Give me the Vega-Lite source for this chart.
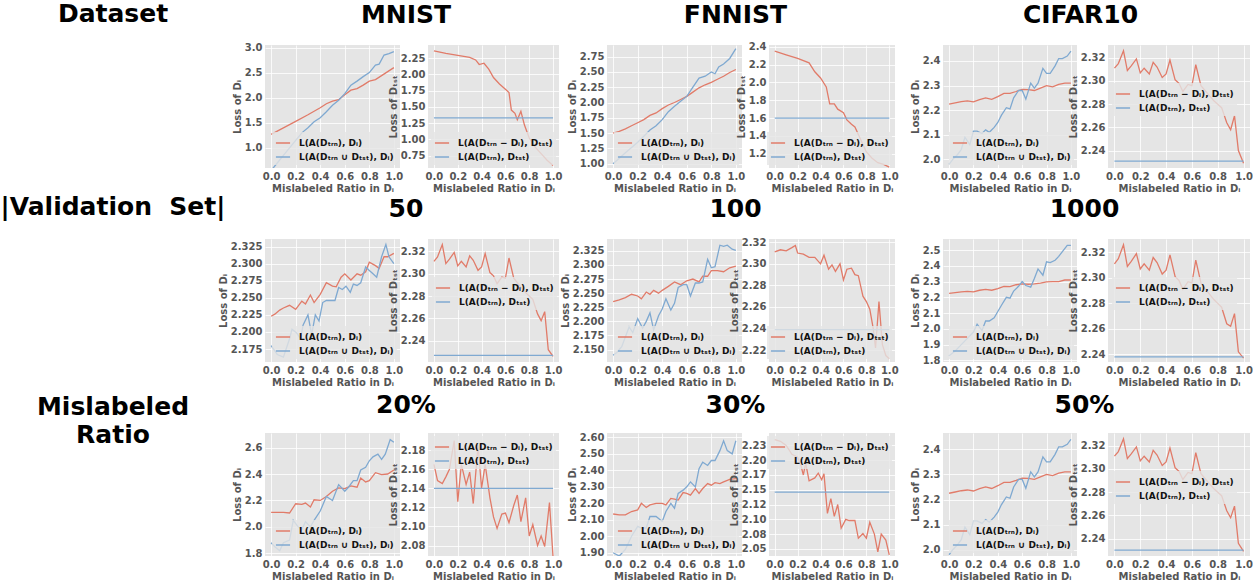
{
"$schema":"https://vega.github.io/schema/vega-lite/v6.json",
"padding":{"left":0,"top":2,"right":0,"bottom":0},
"background":"white",
"datasets":{"d":[
{"p":"1A","s":"r","x":0,"y":1.27},{"p":"1A","s":"r","x":0.1,"y":1.4},{"p":"1A","s":"r","x":0.2,"y":1.53},{"p":"1A","s":"r","x":0.3,"y":1.66},{"p":"1A","s":"r","x":0.4,"y":1.8},{"p":"1A","s":"r","x":0.45,"y":1.88},{"p":"1A","s":"r","x":0.5,"y":1.93},{"p":"1A","s":"r","x":0.55,"y":1.96},{"p":"1A","s":"r","x":0.6,"y":2.06},{"p":"1A","s":"r","x":0.65,"y":2.15},{"p":"1A","s":"r","x":0.7,"y":2.18},{"p":"1A","s":"r","x":0.75,"y":2.25},{"p":"1A","s":"r","x":0.8,"y":2.33},{"p":"1A","s":"r","x":0.85,"y":2.36},{"p":"1A","s":"r","x":0.9,"y":2.44},{"p":"1A","s":"r","x":0.95,"y":2.52},{"p":"1A","s":"r","x":1,"y":2.6},
{"p":"1A","s":"b","x":0,"y":0.55},{"p":"1A","s":"b","x":0.05,"y":0.7},{"p":"1A","s":"b","x":0.1,"y":0.85},{"p":"1A","s":"b","x":0.15,"y":1.0},{"p":"1A","s":"b","x":0.2,"y":1.15},{"p":"1A","s":"b","x":0.25,"y":1.3},{"p":"1A","s":"b","x":0.3,"y":1.4},{"p":"1A","s":"b","x":0.35,"y":1.52},{"p":"1A","s":"b","x":0.4,"y":1.6},{"p":"1A","s":"b","x":0.45,"y":1.72},{"p":"1A","s":"b","x":0.5,"y":1.85},{"p":"1A","s":"b","x":0.55,"y":1.95},{"p":"1A","s":"b","x":0.6,"y":2.08},{"p":"1A","s":"b","x":0.65,"y":2.25},{"p":"1A","s":"b","x":0.7,"y":2.33},{"p":"1A","s":"b","x":0.75,"y":2.42},{"p":"1A","s":"b","x":0.8,"y":2.5},{"p":"1A","s":"b","x":0.85,"y":2.65},{"p":"1A","s":"b","x":0.88,"y":2.67},{"p":"1A","s":"b","x":0.92,"y":2.85},{"p":"1A","s":"b","x":0.96,"y":2.88},{"p":"1A","s":"b","x":1,"y":2.92},
{"p":"1B","s":"r","x":0,"y":2.36},{"p":"1B","s":"r","x":0.1,"y":2.32},{"p":"1B","s":"r","x":0.2,"y":2.29},{"p":"1B","s":"r","x":0.3,"y":2.26},{"p":"1B","s":"r","x":0.35,"y":2.22},{"p":"1B","s":"r","x":0.38,"y":2.15},{"p":"1B","s":"r","x":0.42,"y":2.17},{"p":"1B","s":"r","x":0.46,"y":2.08},{"p":"1B","s":"r","x":0.5,"y":1.95},{"p":"1B","s":"r","x":0.55,"y":1.85},{"p":"1B","s":"r","x":0.6,"y":1.77},{"p":"1B","s":"r","x":0.63,"y":1.72},{"p":"1B","s":"r","x":0.65,"y":1.45},{"p":"1B","s":"r","x":0.68,"y":1.4},{"p":"1B","s":"r","x":0.7,"y":1.3},{"p":"1B","s":"r","x":0.73,"y":1.43},{"p":"1B","s":"r","x":0.76,"y":1.22},{"p":"1B","s":"r","x":0.8,"y":1.02},{"p":"1B","s":"r","x":0.85,"y":0.88},{"p":"1B","s":"r","x":0.9,"y":0.78},{"p":"1B","s":"r","x":0.95,"y":0.68},{"p":"1B","s":"r","x":1,"y":0.6},
{"p":"1B","s":"b","x":0,"y":1.33},{"p":"1B","s":"b","x":1,"y":1.33},
{"p":"1C","s":"r","x":0,"y":1.5},{"p":"1C","s":"r","x":0.05,"y":1.53},{"p":"1C","s":"r","x":0.1,"y":1.57},{"p":"1C","s":"r","x":0.15,"y":1.62},{"p":"1C","s":"r","x":0.2,"y":1.67},{"p":"1C","s":"r","x":0.25,"y":1.72},{"p":"1C","s":"r","x":0.3,"y":1.79},{"p":"1C","s":"r","x":0.35,"y":1.83},{"p":"1C","s":"r","x":0.4,"y":1.9},{"p":"1C","s":"r","x":0.45,"y":1.96},{"p":"1C","s":"r","x":0.5,"y":2.0},{"p":"1C","s":"r","x":0.55,"y":2.05},{"p":"1C","s":"r","x":0.6,"y":2.1},{"p":"1C","s":"r","x":0.65,"y":2.17},{"p":"1C","s":"r","x":0.7,"y":2.24},{"p":"1C","s":"r","x":0.75,"y":2.29},{"p":"1C","s":"r","x":0.8,"y":2.33},{"p":"1C","s":"r","x":0.85,"y":2.38},{"p":"1C","s":"r","x":0.9,"y":2.43},{"p":"1C","s":"r","x":0.95,"y":2.49},{"p":"1C","s":"r","x":1,"y":2.54},
{"p":"1C","s":"b","x":0,"y":1.0},{"p":"1C","s":"b","x":0.1,"y":1.18},{"p":"1C","s":"b","x":0.2,"y":1.35},{"p":"1C","s":"b","x":0.25,"y":1.45},{"p":"1C","s":"b","x":0.3,"y":1.55},{"p":"1C","s":"b","x":0.35,"y":1.62},{"p":"1C","s":"b","x":0.4,"y":1.72},{"p":"1C","s":"b","x":0.45,"y":1.85},{"p":"1C","s":"b","x":0.5,"y":1.94},{"p":"1C","s":"b","x":0.55,"y":2.02},{"p":"1C","s":"b","x":0.6,"y":2.1},{"p":"1C","s":"b","x":0.65,"y":2.25},{"p":"1C","s":"b","x":0.7,"y":2.4},{"p":"1C","s":"b","x":0.75,"y":2.43},{"p":"1C","s":"b","x":0.8,"y":2.5},{"p":"1C","s":"b","x":0.83,"y":2.47},{"p":"1C","s":"b","x":0.86,"y":2.58},{"p":"1C","s":"b","x":0.9,"y":2.63},{"p":"1C","s":"b","x":0.95,"y":2.72},{"p":"1C","s":"b","x":1,"y":2.88},
{"p":"1D","s":"r","x":0,"y":2.35},{"p":"1D","s":"r","x":0.1,"y":2.31},{"p":"1D","s":"r","x":0.2,"y":2.27},{"p":"1D","s":"r","x":0.3,"y":2.22},{"p":"1D","s":"r","x":0.35,"y":2.12},{"p":"1D","s":"r","x":0.4,"y":2.05},{"p":"1D","s":"r","x":0.45,"y":1.95},{"p":"1D","s":"r","x":0.48,"y":1.76},{"p":"1D","s":"r","x":0.52,"y":1.76},{"p":"1D","s":"r","x":0.55,"y":1.7},{"p":"1D","s":"r","x":0.6,"y":1.66},{"p":"1D","s":"r","x":0.63,"y":1.58},{"p":"1D","s":"r","x":0.67,"y":1.53},{"p":"1D","s":"r","x":0.7,"y":1.5},{"p":"1D","s":"r","x":0.75,"y":1.36},{"p":"1D","s":"r","x":0.8,"y":1.22},{"p":"1D","s":"r","x":0.85,"y":1.15},{"p":"1D","s":"r","x":0.9,"y":1.1},{"p":"1D","s":"r","x":0.95,"y":1.08},{"p":"1D","s":"r","x":1,"y":1.05},
{"p":"1D","s":"b","x":0,"y":1.6},{"p":"1D","s":"b","x":1,"y":1.6},
{"p":"1E","s":"r","x":0,"y":2.225},{"p":"1E","s":"r","x":0.05,"y":2.23},{"p":"1E","s":"r","x":0.1,"y":2.235},{"p":"1E","s":"r","x":0.15,"y":2.238},{"p":"1E","s":"r","x":0.2,"y":2.234},{"p":"1E","s":"r","x":0.25,"y":2.243},{"p":"1E","s":"r","x":0.3,"y":2.25},{"p":"1E","s":"r","x":0.35,"y":2.244},{"p":"1E","s":"r","x":0.4,"y":2.255},{"p":"1E","s":"r","x":0.45,"y":2.268},{"p":"1E","s":"r","x":0.5,"y":2.268},{"p":"1E","s":"r","x":0.55,"y":2.276},{"p":"1E","s":"r","x":0.6,"y":2.285},{"p":"1E","s":"r","x":0.65,"y":2.284},{"p":"1E","s":"r","x":0.7,"y":2.28},{"p":"1E","s":"r","x":0.75,"y":2.29},{"p":"1E","s":"r","x":0.8,"y":2.3},{"p":"1E","s":"r","x":0.85,"y":2.295},{"p":"1E","s":"r","x":0.9,"y":2.305},{"p":"1E","s":"r","x":0.95,"y":2.31},{"p":"1E","s":"r","x":1,"y":2.31},
{"p":"1E","s":"b","x":0,"y":1.98},{"p":"1E","s":"b","x":0.03,"y":2.0},{"p":"1E","s":"b","x":0.07,"y":2.02},{"p":"1E","s":"b","x":0.1,"y":2.04},{"p":"1E","s":"b","x":0.13,"y":2.09},{"p":"1E","s":"b","x":0.17,"y":2.06},{"p":"1E","s":"b","x":0.2,"y":2.115},{"p":"1E","s":"b","x":0.23,"y":2.115},{"p":"1E","s":"b","x":0.27,"y":2.105},{"p":"1E","s":"b","x":0.3,"y":2.12},{"p":"1E","s":"b","x":0.33,"y":2.11},{"p":"1E","s":"b","x":0.37,"y":2.13},{"p":"1E","s":"b","x":0.4,"y":2.15},{"p":"1E","s":"b","x":0.43,"y":2.18},{"p":"1E","s":"b","x":0.47,"y":2.21},{"p":"1E","s":"b","x":0.5,"y":2.205},{"p":"1E","s":"b","x":0.53,"y":2.25},{"p":"1E","s":"b","x":0.57,"y":2.28},{"p":"1E","s":"b","x":0.6,"y":2.28},{"p":"1E","s":"b","x":0.63,"y":2.245},{"p":"1E","s":"b","x":0.67,"y":2.31},{"p":"1E","s":"b","x":0.7,"y":2.29},{"p":"1E","s":"b","x":0.73,"y":2.31},{"p":"1E","s":"b","x":0.77,"y":2.37},{"p":"1E","s":"b","x":0.8,"y":2.35},{"p":"1E","s":"b","x":0.83,"y":2.35},{"p":"1E","s":"b","x":0.87,"y":2.38},{"p":"1E","s":"b","x":0.9,"y":2.41},{"p":"1E","s":"b","x":0.93,"y":2.41},{"p":"1E","s":"b","x":0.97,"y":2.42},{"p":"1E","s":"b","x":1,"y":2.44},
{"p":"1F","s":"r","x":0,"y":2.311},{"p":"1F","s":"r","x":0.03,"y":2.315},{"p":"1F","s":"r","x":0.07,"y":2.326},{"p":"1F","s":"r","x":0.1,"y":2.309},{"p":"1F","s":"r","x":0.13,"y":2.313},{"p":"1F","s":"r","x":0.17,"y":2.319},{"p":"1F","s":"r","x":0.2,"y":2.307},{"p":"1F","s":"r","x":0.23,"y":2.311},{"p":"1F","s":"r","x":0.27,"y":2.306},{"p":"1F","s":"r","x":0.3,"y":2.316},{"p":"1F","s":"r","x":0.33,"y":2.312},{"p":"1F","s":"r","x":0.37,"y":2.303},{"p":"1F","s":"r","x":0.4,"y":2.306},{"p":"1F","s":"r","x":0.43,"y":2.318},{"p":"1F","s":"r","x":0.47,"y":2.301},{"p":"1F","s":"r","x":0.5,"y":2.298},{"p":"1F","s":"r","x":0.53,"y":2.291},{"p":"1F","s":"r","x":0.57,"y":2.297},{"p":"1F","s":"r","x":0.6,"y":2.296},{"p":"1F","s":"r","x":0.63,"y":2.314},{"p":"1F","s":"r","x":0.67,"y":2.296},{"p":"1F","s":"r","x":0.7,"y":2.292},{"p":"1F","s":"r","x":0.73,"y":2.288},{"p":"1F","s":"r","x":0.77,"y":2.283},{"p":"1F","s":"r","x":0.8,"y":2.28},{"p":"1F","s":"r","x":0.83,"y":2.277},{"p":"1F","s":"r","x":0.87,"y":2.264},{"p":"1F","s":"r","x":0.9,"y":2.258},{"p":"1F","s":"r","x":0.93,"y":2.27},{"p":"1F","s":"r","x":0.96,"y":2.24},{"p":"1F","s":"r","x":1,"y":2.229},
{"p":"1F","s":"b","x":0,"y":2.231},{"p":"1F","s":"b","x":1,"y":2.231},
{"p":"2A","s":"r","x":0,"y":2.223},{"p":"2A","s":"r","x":0.03,"y":2.226},{"p":"2A","s":"r","x":0.07,"y":2.232},{"p":"2A","s":"r","x":0.1,"y":2.235},{"p":"2A","s":"r","x":0.15,"y":2.239},{"p":"2A","s":"r","x":0.2,"y":2.233},{"p":"2A","s":"r","x":0.25,"y":2.245},{"p":"2A","s":"r","x":0.28,"y":2.241},{"p":"2A","s":"r","x":0.32,"y":2.254},{"p":"2A","s":"r","x":0.35,"y":2.243},{"p":"2A","s":"r","x":0.4,"y":2.255},{"p":"2A","s":"r","x":0.45,"y":2.272},{"p":"2A","s":"r","x":0.5,"y":2.267},{"p":"2A","s":"r","x":0.53,"y":2.266},{"p":"2A","s":"r","x":0.57,"y":2.28},{"p":"2A","s":"r","x":0.6,"y":2.285},{"p":"2A","s":"r","x":0.65,"y":2.276},{"p":"2A","s":"r","x":0.7,"y":2.285},{"p":"2A","s":"r","x":0.73,"y":2.283},{"p":"2A","s":"r","x":0.77,"y":2.288},{"p":"2A","s":"r","x":0.8,"y":2.302},{"p":"2A","s":"r","x":0.85,"y":2.297},{"p":"2A","s":"r","x":0.88,"y":2.293},{"p":"2A","s":"r","x":0.92,"y":2.31},{"p":"2A","s":"r","x":0.95,"y":2.31},{"p":"2A","s":"r","x":1,"y":2.315},
{"p":"2A","s":"b","x":0,"y":2.18},{"p":"2A","s":"b","x":0.05,"y":2.167},{"p":"2A","s":"b","x":0.1,"y":2.163},{"p":"2A","s":"b","x":0.15,"y":2.19},{"p":"2A","s":"b","x":0.17,"y":2.204},{"p":"2A","s":"b","x":0.21,"y":2.198},{"p":"2A","s":"b","x":0.24,"y":2.19},{"p":"2A","s":"b","x":0.26,"y":2.21},{"p":"2A","s":"b","x":0.3,"y":2.225},{"p":"2A","s":"b","x":0.33,"y":2.196},{"p":"2A","s":"b","x":0.36,"y":2.225},{"p":"2A","s":"b","x":0.39,"y":2.216},{"p":"2A","s":"b","x":0.42,"y":2.243},{"p":"2A","s":"b","x":0.45,"y":2.246},{"p":"2A","s":"b","x":0.52,"y":2.246},{"p":"2A","s":"b","x":0.55,"y":2.265},{"p":"2A","s":"b","x":0.58,"y":2.262},{"p":"2A","s":"b","x":0.61,"y":2.267},{"p":"2A","s":"b","x":0.645,"y":2.258},{"p":"2A","s":"b","x":0.67,"y":2.27},{"p":"2A","s":"b","x":0.7,"y":2.268},{"p":"2A","s":"b","x":0.73,"y":2.272},{"p":"2A","s":"b","x":0.77,"y":2.295},{"p":"2A","s":"b","x":0.8,"y":2.29},{"p":"2A","s":"b","x":0.83,"y":2.285},{"p":"2A","s":"b","x":0.86,"y":2.28},{"p":"2A","s":"b","x":0.9,"y":2.31},{"p":"2A","s":"b","x":0.935,"y":2.328},{"p":"2A","s":"b","x":0.96,"y":2.31},{"p":"2A","s":"b","x":1,"y":2.3},
{"p":"2B","s":"r","x":0,"y":2.311},{"p":"2B","s":"r","x":0.03,"y":2.315},{"p":"2B","s":"r","x":0.07,"y":2.326},{"p":"2B","s":"r","x":0.1,"y":2.309},{"p":"2B","s":"r","x":0.13,"y":2.313},{"p":"2B","s":"r","x":0.17,"y":2.319},{"p":"2B","s":"r","x":0.2,"y":2.307},{"p":"2B","s":"r","x":0.23,"y":2.311},{"p":"2B","s":"r","x":0.27,"y":2.306},{"p":"2B","s":"r","x":0.3,"y":2.316},{"p":"2B","s":"r","x":0.33,"y":2.312},{"p":"2B","s":"r","x":0.37,"y":2.303},{"p":"2B","s":"r","x":0.4,"y":2.306},{"p":"2B","s":"r","x":0.43,"y":2.318},{"p":"2B","s":"r","x":0.47,"y":2.301},{"p":"2B","s":"r","x":0.5,"y":2.298},{"p":"2B","s":"r","x":0.53,"y":2.291},{"p":"2B","s":"r","x":0.57,"y":2.297},{"p":"2B","s":"r","x":0.6,"y":2.296},{"p":"2B","s":"r","x":0.63,"y":2.314},{"p":"2B","s":"r","x":0.67,"y":2.296},{"p":"2B","s":"r","x":0.7,"y":2.292},{"p":"2B","s":"r","x":0.73,"y":2.288},{"p":"2B","s":"r","x":0.77,"y":2.283},{"p":"2B","s":"r","x":0.8,"y":2.28},{"p":"2B","s":"r","x":0.83,"y":2.277},{"p":"2B","s":"r","x":0.87,"y":2.264},{"p":"2B","s":"r","x":0.9,"y":2.258},{"p":"2B","s":"r","x":0.93,"y":2.266},{"p":"2B","s":"r","x":0.96,"y":2.232},{"p":"2B","s":"r","x":1,"y":2.226},
{"p":"2B","s":"b","x":0,"y":2.227},{"p":"2B","s":"b","x":1,"y":2.227},
{"p":"2C","s":"r","x":0,"y":2.235},{"p":"2C","s":"r","x":0.05,"y":2.238},{"p":"2C","s":"r","x":0.1,"y":2.242},{"p":"2C","s":"r","x":0.15,"y":2.248},{"p":"2C","s":"r","x":0.2,"y":2.245},{"p":"2C","s":"r","x":0.23,"y":2.24},{"p":"2C","s":"r","x":0.27,"y":2.252},{"p":"2C","s":"r","x":0.3,"y":2.248},{"p":"2C","s":"r","x":0.33,"y":2.255},{"p":"2C","s":"r","x":0.37,"y":2.25},{"p":"2C","s":"r","x":0.4,"y":2.255},{"p":"2C","s":"r","x":0.45,"y":2.262},{"p":"2C","s":"r","x":0.5,"y":2.27},{"p":"2C","s":"r","x":0.55,"y":2.265},{"p":"2C","s":"r","x":0.6,"y":2.272},{"p":"2C","s":"r","x":0.65,"y":2.275},{"p":"2C","s":"r","x":0.7,"y":2.27},{"p":"2C","s":"r","x":0.73,"y":2.28},{"p":"2C","s":"r","x":0.77,"y":2.28},{"p":"2C","s":"r","x":0.8,"y":2.29},{"p":"2C","s":"r","x":0.85,"y":2.29},{"p":"2C","s":"r","x":0.9,"y":2.288},{"p":"2C","s":"r","x":0.95,"y":2.295},{"p":"2C","s":"r","x":1,"y":2.298},
{"p":"2C","s":"b","x":0,"y":2.14},{"p":"2C","s":"b","x":0.03,"y":2.145},{"p":"2C","s":"b","x":0.07,"y":2.155},{"p":"2C","s":"b","x":0.13,"y":2.19},{"p":"2C","s":"b","x":0.16,"y":2.18},{"p":"2C","s":"b","x":0.2,"y":2.205},{"p":"2C","s":"b","x":0.24,"y":2.188},{"p":"2C","s":"b","x":0.27,"y":2.2},{"p":"2C","s":"b","x":0.3,"y":2.215},{"p":"2C","s":"b","x":0.33,"y":2.185},{"p":"2C","s":"b","x":0.37,"y":2.21},{"p":"2C","s":"b","x":0.4,"y":2.222},{"p":"2C","s":"b","x":0.43,"y":2.24},{"p":"2C","s":"b","x":0.47,"y":2.22},{"p":"2C","s":"b","x":0.5,"y":2.232},{"p":"2C","s":"b","x":0.53,"y":2.26},{"p":"2C","s":"b","x":0.57,"y":2.265},{"p":"2C","s":"b","x":0.6,"y":2.265},{"p":"2C","s":"b","x":0.63,"y":2.245},{"p":"2C","s":"b","x":0.67,"y":2.268},{"p":"2C","s":"b","x":0.7,"y":2.268},{"p":"2C","s":"b","x":0.73,"y":2.27},{"p":"2C","s":"b","x":0.77,"y":2.31},{"p":"2C","s":"b","x":0.8,"y":2.295},{"p":"2C","s":"b","x":0.83,"y":2.297},{"p":"2C","s":"b","x":0.87,"y":2.335},{"p":"2C","s":"b","x":0.9,"y":2.333},{"p":"2C","s":"b","x":0.93,"y":2.335},{"p":"2C","s":"b","x":0.97,"y":2.328},{"p":"2C","s":"b","x":1,"y":2.326},
{"p":"2D","s":"r","x":0,"y":2.311},{"p":"2D","s":"r","x":0.05,"y":2.313},{"p":"2D","s":"r","x":0.1,"y":2.312},{"p":"2D","s":"r","x":0.15,"y":2.315},{"p":"2D","s":"r","x":0.18,"y":2.317},{"p":"2D","s":"r","x":0.2,"y":2.31},{"p":"2D","s":"r","x":0.25,"y":2.309},{"p":"2D","s":"r","x":0.3,"y":2.306},{"p":"2D","s":"r","x":0.35,"y":2.306},{"p":"2D","s":"r","x":0.4,"y":2.3},{"p":"2D","s":"r","x":0.43,"y":2.308},{"p":"2D","s":"r","x":0.47,"y":2.295},{"p":"2D","s":"r","x":0.5,"y":2.299},{"p":"2D","s":"r","x":0.53,"y":2.293},{"p":"2D","s":"r","x":0.57,"y":2.3},{"p":"2D","s":"r","x":0.6,"y":2.285},{"p":"2D","s":"r","x":0.63,"y":2.295},{"p":"2D","s":"r","x":0.67,"y":2.296},{"p":"2D","s":"r","x":0.7,"y":2.29},{"p":"2D","s":"r","x":0.73,"y":2.289},{"p":"2D","s":"r","x":0.77,"y":2.27},{"p":"2D","s":"r","x":0.8,"y":2.265},{"p":"2D","s":"r","x":0.83,"y":2.258},{"p":"2D","s":"r","x":0.86,"y":2.24},{"p":"2D","s":"r","x":0.88,"y":2.222},{"p":"2D","s":"r","x":0.91,"y":2.265},{"p":"2D","s":"r","x":0.94,"y":2.225},{"p":"2D","s":"r","x":0.97,"y":2.215},{"p":"2D","s":"r","x":1,"y":2.212},
{"p":"2D","s":"b","x":0,"y":2.239},{"p":"2D","s":"b","x":1,"y":2.239},
{"p":"2E","s":"r","x":0,"y":2.225},{"p":"2E","s":"r","x":0.05,"y":2.23},{"p":"2E","s":"r","x":0.1,"y":2.235},{"p":"2E","s":"r","x":0.15,"y":2.238},{"p":"2E","s":"r","x":0.2,"y":2.235},{"p":"2E","s":"r","x":0.25,"y":2.245},{"p":"2E","s":"r","x":0.3,"y":2.25},{"p":"2E","s":"r","x":0.35,"y":2.245},{"p":"2E","s":"r","x":0.4,"y":2.255},{"p":"2E","s":"r","x":0.45,"y":2.27},{"p":"2E","s":"r","x":0.5,"y":2.268},{"p":"2E","s":"r","x":0.55,"y":2.28},{"p":"2E","s":"r","x":0.6,"y":2.285},{"p":"2E","s":"r","x":0.65,"y":2.283},{"p":"2E","s":"r","x":0.7,"y":2.285},{"p":"2E","s":"r","x":0.75,"y":2.29},{"p":"2E","s":"r","x":0.8,"y":2.298},{"p":"2E","s":"r","x":0.85,"y":2.3},{"p":"2E","s":"r","x":0.9,"y":2.3},{"p":"2E","s":"r","x":0.95,"y":2.31},{"p":"2E","s":"r","x":1,"y":2.31},
{"p":"2E","s":"b","x":0,"y":1.83},{"p":"2E","s":"b","x":0.05,"y":1.86},{"p":"2E","s":"b","x":0.1,"y":1.9},{"p":"2E","s":"b","x":0.15,"y":1.94},{"p":"2E","s":"b","x":0.2,"y":1.98},{"p":"2E","s":"b","x":0.23,"y":2.03},{"p":"2E","s":"b","x":0.27,"y":1.99},{"p":"2E","s":"b","x":0.3,"y":2.05},{"p":"2E","s":"b","x":0.33,"y":2.05},{"p":"2E","s":"b","x":0.37,"y":2.07},{"p":"2E","s":"b","x":0.4,"y":2.11},{"p":"2E","s":"b","x":0.43,"y":2.15},{"p":"2E","s":"b","x":0.47,"y":2.2},{"p":"2E","s":"b","x":0.5,"y":2.195},{"p":"2E","s":"b","x":0.53,"y":2.24},{"p":"2E","s":"b","x":0.57,"y":2.27},{"p":"2E","s":"b","x":0.6,"y":2.3},{"p":"2E","s":"b","x":0.63,"y":2.275},{"p":"2E","s":"b","x":0.67,"y":2.265},{"p":"2E","s":"b","x":0.7,"y":2.32},{"p":"2E","s":"b","x":0.73,"y":2.38},{"p":"2E","s":"b","x":0.77,"y":2.34},{"p":"2E","s":"b","x":0.8,"y":2.425},{"p":"2E","s":"b","x":0.83,"y":2.42},{"p":"2E","s":"b","x":0.87,"y":2.435},{"p":"2E","s":"b","x":0.9,"y":2.46},{"p":"2E","s":"b","x":0.93,"y":2.49},{"p":"2E","s":"b","x":0.97,"y":2.53},{"p":"2E","s":"b","x":1,"y":2.53},
{"p":"2F","s":"r","x":0,"y":2.311},{"p":"2F","s":"r","x":0.03,"y":2.315},{"p":"2F","s":"r","x":0.07,"y":2.326},{"p":"2F","s":"r","x":0.1,"y":2.309},{"p":"2F","s":"r","x":0.13,"y":2.313},{"p":"2F","s":"r","x":0.17,"y":2.319},{"p":"2F","s":"r","x":0.2,"y":2.307},{"p":"2F","s":"r","x":0.23,"y":2.311},{"p":"2F","s":"r","x":0.27,"y":2.306},{"p":"2F","s":"r","x":0.3,"y":2.316},{"p":"2F","s":"r","x":0.33,"y":2.312},{"p":"2F","s":"r","x":0.37,"y":2.303},{"p":"2F","s":"r","x":0.4,"y":2.306},{"p":"2F","s":"r","x":0.43,"y":2.318},{"p":"2F","s":"r","x":0.47,"y":2.301},{"p":"2F","s":"r","x":0.5,"y":2.298},{"p":"2F","s":"r","x":0.53,"y":2.291},{"p":"2F","s":"r","x":0.57,"y":2.297},{"p":"2F","s":"r","x":0.6,"y":2.296},{"p":"2F","s":"r","x":0.63,"y":2.314},{"p":"2F","s":"r","x":0.67,"y":2.296},{"p":"2F","s":"r","x":0.7,"y":2.292},{"p":"2F","s":"r","x":0.73,"y":2.288},{"p":"2F","s":"r","x":0.77,"y":2.283},{"p":"2F","s":"r","x":0.8,"y":2.28},{"p":"2F","s":"r","x":0.83,"y":2.277},{"p":"2F","s":"r","x":0.87,"y":2.264},{"p":"2F","s":"r","x":0.9,"y":2.262},{"p":"2F","s":"r","x":0.93,"y":2.272},{"p":"2F","s":"r","x":0.96,"y":2.242},{"p":"2F","s":"r","x":1,"y":2.237},
{"p":"2F","s":"b","x":0,"y":2.238},{"p":"2F","s":"b","x":1,"y":2.238},
{"p":"3A","s":"r","x":0,"y":2.11},{"p":"3A","s":"r","x":0.05,"y":2.11},{"p":"3A","s":"r","x":0.1,"y":2.11},{"p":"3A","s":"r","x":0.15,"y":2.105},{"p":"3A","s":"r","x":0.2,"y":2.175},{"p":"3A","s":"r","x":0.25,"y":2.17},{"p":"3A","s":"r","x":0.28,"y":2.18},{"p":"3A","s":"r","x":0.32,"y":2.15},{"p":"3A","s":"r","x":0.35,"y":2.205},{"p":"3A","s":"r","x":0.4,"y":2.2},{"p":"3A","s":"r","x":0.45,"y":2.23},{"p":"3A","s":"r","x":0.5,"y":2.27},{"p":"3A","s":"r","x":0.55,"y":2.295},{"p":"3A","s":"r","x":0.6,"y":2.29},{"p":"3A","s":"r","x":0.65,"y":2.31},{"p":"3A","s":"r","x":0.7,"y":2.3},{"p":"3A","s":"r","x":0.73,"y":2.37},{"p":"3A","s":"r","x":0.77,"y":2.34},{"p":"3A","s":"r","x":0.8,"y":2.35},{"p":"3A","s":"r","x":0.85,"y":2.41},{"p":"3A","s":"r","x":0.9,"y":2.395},{"p":"3A","s":"r","x":0.95,"y":2.4},{"p":"3A","s":"r","x":1,"y":2.43},
{"p":"3A","s":"b","x":0,"y":1.88},{"p":"3A","s":"b","x":0.03,"y":1.85},{"p":"3A","s":"b","x":0.07,"y":1.82},{"p":"3A","s":"b","x":0.1,"y":1.88},{"p":"3A","s":"b","x":0.15,"y":1.9},{"p":"3A","s":"b","x":0.18,"y":2.05},{"p":"3A","s":"b","x":0.22,"y":2.0},{"p":"3A","s":"b","x":0.25,"y":1.98},{"p":"3A","s":"b","x":0.28,"y":2.04},{"p":"3A","s":"b","x":0.32,"y":2.0},{"p":"3A","s":"b","x":0.35,"y":2.05},{"p":"3A","s":"b","x":0.4,"y":2.12},{"p":"3A","s":"b","x":0.45,"y":2.23},{"p":"3A","s":"b","x":0.5,"y":2.2},{"p":"3A","s":"b","x":0.55,"y":2.32},{"p":"3A","s":"b","x":0.6,"y":2.27},{"p":"3A","s":"b","x":0.63,"y":2.3},{"p":"3A","s":"b","x":0.67,"y":2.35},{"p":"3A","s":"b","x":0.7,"y":2.35},{"p":"3A","s":"b","x":0.73,"y":2.43},{"p":"3A","s":"b","x":0.77,"y":2.45},{"p":"3A","s":"b","x":0.8,"y":2.5},{"p":"3A","s":"b","x":0.83,"y":2.53},{"p":"3A","s":"b","x":0.87,"y":2.55},{"p":"3A","s":"b","x":0.9,"y":2.51},{"p":"3A","s":"b","x":0.93,"y":2.55},{"p":"3A","s":"b","x":0.97,"y":2.66},{"p":"3A","s":"b","x":1,"y":2.64},
{"p":"3B","s":"r","x":0,"y":2.165},{"p":"3B","s":"r","x":0.03,"y":2.148},{"p":"3B","s":"r","x":0.07,"y":2.145},{"p":"3B","s":"r","x":0.1,"y":2.152},{"p":"3B","s":"r","x":0.13,"y":2.16},{"p":"3B","s":"r","x":0.17,"y":2.19},{"p":"3B","s":"r","x":0.2,"y":2.126},{"p":"3B","s":"r","x":0.23,"y":2.165},{"p":"3B","s":"r","x":0.27,"y":2.144},{"p":"3B","s":"r","x":0.3,"y":2.157},{"p":"3B","s":"r","x":0.33,"y":2.124},{"p":"3B","s":"r","x":0.37,"y":2.185},{"p":"3B","s":"r","x":0.4,"y":2.14},{"p":"3B","s":"r","x":0.43,"y":2.165},{"p":"3B","s":"r","x":0.47,"y":2.13},{"p":"3B","s":"r","x":0.5,"y":2.11},{"p":"3B","s":"r","x":0.53,"y":2.098},{"p":"3B","s":"r","x":0.57,"y":2.113},{"p":"3B","s":"r","x":0.6,"y":2.114},{"p":"3B","s":"r","x":0.63,"y":2.104},{"p":"3B","s":"r","x":0.67,"y":2.122},{"p":"3B","s":"r","x":0.7,"y":2.133},{"p":"3B","s":"r","x":0.73,"y":2.105},{"p":"3B","s":"r","x":0.77,"y":2.13},{"p":"3B","s":"r","x":0.8,"y":2.09},{"p":"3B","s":"r","x":0.83,"y":2.102},{"p":"3B","s":"r","x":0.87,"y":2.08},{"p":"3B","s":"r","x":0.9,"y":2.09},{"p":"3B","s":"r","x":0.93,"y":2.079},{"p":"3B","s":"r","x":0.97,"y":2.125},{"p":"3B","s":"r","x":1,"y":2.068},
{"p":"3B","s":"b","x":0,"y":2.14},{"p":"3B","s":"b","x":1,"y":2.14},
{"p":"3C","s":"r","x":0,"y":2.135},{"p":"3C","s":"r","x":0.05,"y":2.13},{"p":"3C","s":"r","x":0.1,"y":2.13},{"p":"3C","s":"r","x":0.15,"y":2.15},{"p":"3C","s":"r","x":0.2,"y":2.16},{"p":"3C","s":"r","x":0.23,"y":2.2},{"p":"3C","s":"r","x":0.27,"y":2.175},{"p":"3C","s":"r","x":0.3,"y":2.19},{"p":"3C","s":"r","x":0.35,"y":2.2},{"p":"3C","s":"r","x":0.4,"y":2.2},{"p":"3C","s":"r","x":0.43,"y":2.19},{"p":"3C","s":"r","x":0.47,"y":2.23},{"p":"3C","s":"r","x":0.5,"y":2.225},{"p":"3C","s":"r","x":0.53,"y":2.22},{"p":"3C","s":"r","x":0.57,"y":2.265},{"p":"3C","s":"r","x":0.6,"y":2.26},{"p":"3C","s":"r","x":0.63,"y":2.25},{"p":"3C","s":"r","x":0.67,"y":2.29},{"p":"3C","s":"r","x":0.7,"y":2.26},{"p":"3C","s":"r","x":0.73,"y":2.29},{"p":"3C","s":"r","x":0.77,"y":2.32},{"p":"3C","s":"r","x":0.8,"y":2.31},{"p":"3C","s":"r","x":0.83,"y":2.325},{"p":"3C","s":"r","x":0.87,"y":2.32},{"p":"3C","s":"r","x":0.9,"y":2.33},{"p":"3C","s":"r","x":0.95,"y":2.345},{"p":"3C","s":"r","x":1,"y":2.35},
{"p":"3C","s":"b","x":0,"y":1.9},{"p":"3C","s":"b","x":0.05,"y":1.88},{"p":"3C","s":"b","x":0.1,"y":1.92},{"p":"3C","s":"b","x":0.15,"y":2.0},{"p":"3C","s":"b","x":0.2,"y":2.06},{"p":"3C","s":"b","x":0.23,"y":2.05},{"p":"3C","s":"b","x":0.27,"y":2.05},{"p":"3C","s":"b","x":0.3,"y":2.12},{"p":"3C","s":"b","x":0.35,"y":2.12},{"p":"3C","s":"b","x":0.4,"y":2.09},{"p":"3C","s":"b","x":0.43,"y":2.15},{"p":"3C","s":"b","x":0.47,"y":2.2},{"p":"3C","s":"b","x":0.5,"y":2.17},{"p":"3C","s":"b","x":0.53,"y":2.26},{"p":"3C","s":"b","x":0.57,"y":2.28},{"p":"3C","s":"b","x":0.6,"y":2.3},{"p":"3C","s":"b","x":0.63,"y":2.33},{"p":"3C","s":"b","x":0.67,"y":2.3},{"p":"3C","s":"b","x":0.7,"y":2.41},{"p":"3C","s":"b","x":0.73,"y":2.45},{"p":"3C","s":"b","x":0.77,"y":2.43},{"p":"3C","s":"b","x":0.8,"y":2.46},{"p":"3C","s":"b","x":0.83,"y":2.46},{"p":"3C","s":"b","x":0.87,"y":2.52},{"p":"3C","s":"b","x":0.9,"y":2.58},{"p":"3C","s":"b","x":0.93,"y":2.52},{"p":"3C","s":"b","x":0.97,"y":2.5},{"p":"3C","s":"b","x":1,"y":2.58},
{"p":"3D","s":"r","x":0,"y":2.235},{"p":"3D","s":"r","x":0.05,"y":2.232},{"p":"3D","s":"r","x":0.1,"y":2.225},{"p":"3D","s":"r","x":0.15,"y":2.21},{"p":"3D","s":"r","x":0.2,"y":2.205},{"p":"3D","s":"r","x":0.23,"y":2.19},{"p":"3D","s":"r","x":0.25,"y":2.175},{"p":"3D","s":"r","x":0.27,"y":2.195},{"p":"3D","s":"r","x":0.3,"y":2.165},{"p":"3D","s":"r","x":0.35,"y":2.17},{"p":"3D","s":"r","x":0.38,"y":2.178},{"p":"3D","s":"r","x":0.41,"y":2.167},{"p":"3D","s":"r","x":0.43,"y":2.177},{"p":"3D","s":"r","x":0.46,"y":2.11},{"p":"3D","s":"r","x":0.49,"y":2.135},{"p":"3D","s":"r","x":0.52,"y":2.105},{"p":"3D","s":"r","x":0.55,"y":2.125},{"p":"3D","s":"r","x":0.58,"y":2.085},{"p":"3D","s":"r","x":0.62,"y":2.1},{"p":"3D","s":"r","x":0.65,"y":2.098},{"p":"3D","s":"r","x":0.7,"y":2.098},{"p":"3D","s":"r","x":0.73,"y":2.068},{"p":"3D","s":"r","x":0.77,"y":2.076},{"p":"3D","s":"r","x":0.8,"y":2.068},{"p":"3D","s":"r","x":0.83,"y":2.095},{"p":"3D","s":"r","x":0.87,"y":2.075},{"p":"3D","s":"r","x":0.9,"y":2.045},{"p":"3D","s":"r","x":0.93,"y":2.075},{"p":"3D","s":"r","x":0.97,"y":2.065},{"p":"3D","s":"r","x":1,"y":2.04},
{"p":"3D","s":"b","x":0,"y":2.146},{"p":"3D","s":"b","x":1,"y":2.146},
{"p":"3E","s":"r","x":0,"y":2.225},{"p":"3E","s":"r","x":0.05,"y":2.23},{"p":"3E","s":"r","x":0.1,"y":2.235},{"p":"3E","s":"r","x":0.15,"y":2.238},{"p":"3E","s":"r","x":0.2,"y":2.234},{"p":"3E","s":"r","x":0.25,"y":2.243},{"p":"3E","s":"r","x":0.3,"y":2.25},{"p":"3E","s":"r","x":0.35,"y":2.244},{"p":"3E","s":"r","x":0.4,"y":2.255},{"p":"3E","s":"r","x":0.45,"y":2.268},{"p":"3E","s":"r","x":0.5,"y":2.268},{"p":"3E","s":"r","x":0.55,"y":2.276},{"p":"3E","s":"r","x":0.6,"y":2.285},{"p":"3E","s":"r","x":0.65,"y":2.284},{"p":"3E","s":"r","x":0.7,"y":2.28},{"p":"3E","s":"r","x":0.75,"y":2.29},{"p":"3E","s":"r","x":0.8,"y":2.3},{"p":"3E","s":"r","x":0.85,"y":2.295},{"p":"3E","s":"r","x":0.9,"y":2.305},{"p":"3E","s":"r","x":0.95,"y":2.31},{"p":"3E","s":"r","x":1,"y":2.31},
{"p":"3E","s":"b","x":0,"y":1.98},{"p":"3E","s":"b","x":0.03,"y":2.0},{"p":"3E","s":"b","x":0.07,"y":2.02},{"p":"3E","s":"b","x":0.1,"y":2.04},{"p":"3E","s":"b","x":0.13,"y":2.09},{"p":"3E","s":"b","x":0.17,"y":2.06},{"p":"3E","s":"b","x":0.2,"y":2.115},{"p":"3E","s":"b","x":0.23,"y":2.115},{"p":"3E","s":"b","x":0.27,"y":2.105},{"p":"3E","s":"b","x":0.3,"y":2.12},{"p":"3E","s":"b","x":0.33,"y":2.11},{"p":"3E","s":"b","x":0.37,"y":2.13},{"p":"3E","s":"b","x":0.4,"y":2.15},{"p":"3E","s":"b","x":0.43,"y":2.18},{"p":"3E","s":"b","x":0.47,"y":2.21},{"p":"3E","s":"b","x":0.5,"y":2.205},{"p":"3E","s":"b","x":0.53,"y":2.25},{"p":"3E","s":"b","x":0.57,"y":2.28},{"p":"3E","s":"b","x":0.6,"y":2.28},{"p":"3E","s":"b","x":0.63,"y":2.245},{"p":"3E","s":"b","x":0.67,"y":2.31},{"p":"3E","s":"b","x":0.7,"y":2.29},{"p":"3E","s":"b","x":0.73,"y":2.31},{"p":"3E","s":"b","x":0.77,"y":2.37},{"p":"3E","s":"b","x":0.8,"y":2.35},{"p":"3E","s":"b","x":0.83,"y":2.35},{"p":"3E","s":"b","x":0.87,"y":2.38},{"p":"3E","s":"b","x":0.9,"y":2.41},{"p":"3E","s":"b","x":0.93,"y":2.41},{"p":"3E","s":"b","x":0.97,"y":2.42},{"p":"3E","s":"b","x":1,"y":2.44},
{"p":"3F","s":"r","x":0,"y":2.311},{"p":"3F","s":"r","x":0.03,"y":2.315},{"p":"3F","s":"r","x":0.07,"y":2.326},{"p":"3F","s":"r","x":0.1,"y":2.309},{"p":"3F","s":"r","x":0.13,"y":2.313},{"p":"3F","s":"r","x":0.17,"y":2.319},{"p":"3F","s":"r","x":0.2,"y":2.307},{"p":"3F","s":"r","x":0.23,"y":2.311},{"p":"3F","s":"r","x":0.27,"y":2.306},{"p":"3F","s":"r","x":0.3,"y":2.316},{"p":"3F","s":"r","x":0.33,"y":2.312},{"p":"3F","s":"r","x":0.37,"y":2.303},{"p":"3F","s":"r","x":0.4,"y":2.306},{"p":"3F","s":"r","x":0.43,"y":2.318},{"p":"3F","s":"r","x":0.47,"y":2.301},{"p":"3F","s":"r","x":0.5,"y":2.298},{"p":"3F","s":"r","x":0.53,"y":2.291},{"p":"3F","s":"r","x":0.57,"y":2.297},{"p":"3F","s":"r","x":0.6,"y":2.296},{"p":"3F","s":"r","x":0.63,"y":2.314},{"p":"3F","s":"r","x":0.67,"y":2.296},{"p":"3F","s":"r","x":0.7,"y":2.292},{"p":"3F","s":"r","x":0.73,"y":2.288},{"p":"3F","s":"r","x":0.77,"y":2.283},{"p":"3F","s":"r","x":0.8,"y":2.28},{"p":"3F","s":"r","x":0.83,"y":2.277},{"p":"3F","s":"r","x":0.87,"y":2.264},{"p":"3F","s":"r","x":0.9,"y":2.258},{"p":"3F","s":"r","x":0.93,"y":2.268},{"p":"3F","s":"r","x":0.96,"y":2.236},{"p":"3F","s":"r","x":1,"y":2.229},
{"p":"3F","s":"b","x":0,"y":2.23},{"p":"3F","s":"b","x":1,"y":2.23}
]},
"columns":13,
"align":"each",
"bounds":"flush",
"spacing":{"row":71,"column":0},
"resolve":{"scale":{"color":"independent"},"legend":{"color":"independent"}},
"concat":[
{"width":226,"height":123,"title":{"text":"Dataset","offset":18},"data":{"values":[]},"mark":"text","encoding":{}},
{"width":39,"height":123,"data":{"values":[]},"mark":"text","encoding":{}},
{"width":135,"height":123,"view":{"fill":"#E5E5E5","stroke":null},"data":{"name":"d"},"transform":[{"filter":"datum.p=='1A'"}],"mark":{"type":"line","clip":true,"strokeWidth":1.3},"encoding":{"x":{"field":"x","type":"quantitative","title":"Mislabeled Ratio in Dᵢ","scale":{"domain":[-0.05,1.05],"nice":false,"zero":false},"axis":{"values":[0,0.2,0.4,0.6,0.8,1],"format":".1f"}},"y":{"field":"y","type":"quantitative","title":"Loss of Dᵢ","scale":{"domain":[0.6,3.05],"nice":false,"zero":false},"axis":{"values":[1,1.5,2,2.5,3],"format":".1f"}},"color":{"field":"s","type":"nominal","scale":{"domain":["r","b"],"range":["#E17B69","#7FA9D1"]},"legend":{"title":null,"orient":"bottom-right","labelExpr":"datum.label=='r'?'L(A(Dₜᵣₙ), Dᵢ)':'L(A(Dₜᵣₙ ∪ Dₜₛₜ), Dᵢ)'"}}}},
{"width":28,"height":123,"title":{"text":"MNIST","dx":-8},"data":{"values":[]},"mark":"text","encoding":{}},
{"width":131,"height":123,"view":{"fill":"#E5E5E5","stroke":null},"data":{"name":"d"},"transform":[{"filter":"datum.p=='1B'"}],"mark":{"type":"line","clip":true,"strokeWidth":1.3},"encoding":{"x":{"field":"x","type":"quantitative","title":"Mislabeled Ratio in Dᵢ","scale":{"domain":[-0.05,1.05],"nice":false,"zero":false},"axis":{"values":[0,0.2,0.4,0.6,0.8,1],"format":".1f"}},"y":{"field":"y","type":"quantitative","title":"Loss of Dₜₛₜ","scale":{"domain":[0.56,2.45],"nice":false,"zero":false},"axis":{"values":[0.75,1,1.25,1.5,1.75,2,2.25],"format":".2f"}},"color":{"field":"s","type":"nominal","scale":{"domain":["r","b"],"range":["#E17B69","#7FA9D1"]},"legend":{"title":null,"orient":"bottom-right","labelExpr":"datum.label=='r'?'L(A(Dₜᵣₙ − Dᵢ), Dₜₛₜ)':'L(A(Dₜᵣₙ), Dₜₛₜ)'"}}}},
{"width":48,"height":123,"data":{"values":[]},"mark":"text","encoding":{}},
{"width":135,"height":123,"view":{"fill":"#E5E5E5","stroke":null},"data":{"name":"d"},"transform":[{"filter":"datum.p=='1C'"}],"mark":{"type":"line","clip":true,"strokeWidth":1.3},"encoding":{"x":{"field":"x","type":"quantitative","title":"Mislabeled Ratio in Dᵢ","scale":{"domain":[-0.05,1.05],"nice":false,"zero":false},"axis":{"values":[0,0.2,0.4,0.6,0.8,1],"format":".1f"}},"y":{"field":"y","type":"quantitative","title":"Loss of Dᵢ","scale":{"domain":[0.93,2.94],"nice":false,"zero":false},"axis":{"values":[1,1.25,1.5,1.75,2,2.25,2.5,2.75],"format":".2f"}},"color":{"field":"s","type":"nominal","scale":{"domain":["r","b"],"range":["#E17B69","#7FA9D1"]},"legend":{"title":null,"orient":"bottom-right","labelExpr":"datum.label=='r'?'L(A(Dₜᵣₙ), Dᵢ)':'L(A(Dₜᵣₙ ∪ Dₜₛₜ), Dᵢ)'"}}}},
{"width":27,"height":123,"title":{"text":"FNNIST","dx":-20},"data":{"values":[]},"mark":"text","encoding":{}},
{"width":126,"height":123,"view":{"fill":"#E5E5E5","stroke":null},"data":{"name":"d"},"transform":[{"filter":"datum.p=='1D'"}],"mark":{"type":"line","clip":true,"strokeWidth":1.3},"encoding":{"x":{"field":"x","type":"quantitative","title":"Mislabeled Ratio in Dᵢ","scale":{"domain":[-0.05,1.05],"nice":false,"zero":false},"axis":{"values":[0,0.2,0.4,0.6,0.8,1],"format":".1f"}},"y":{"field":"y","type":"quantitative","title":"Loss of Dₜₛₜ","scale":{"domain":[1.04,2.42],"nice":false,"zero":false},"axis":{"values":[1.2,1.4,1.6,1.8,2,2.2,2.4],"format":".1f"}},"color":{"field":"s","type":"nominal","scale":{"domain":["r","b"],"range":["#E17B69","#7FA9D1"]},"legend":{"title":null,"orient":"bottom-right","labelExpr":"datum.label=='r'?'L(A(Dₜᵣₙ − Dᵢ), Dₜₛₜ)':'L(A(Dₜᵣₙ), Dₜₛₜ)'"}}}},
{"width":48,"height":123,"data":{"values":[]},"mark":"text","encoding":{}},
{"width":134,"height":123,"view":{"fill":"#E5E5E5","stroke":null},"data":{"name":"d"},"transform":[{"filter":"datum.p=='1E'"}],"mark":{"type":"line","clip":true,"strokeWidth":1.3},"encoding":{"x":{"field":"x","type":"quantitative","title":"Mislabeled Ratio in Dᵢ","scale":{"domain":[-0.05,1.05],"nice":false,"zero":false},"axis":{"values":[0,0.2,0.4,0.6,0.8,1],"format":".1f"}},"y":{"field":"y","type":"quantitative","title":"Loss of Dᵢ","scale":{"domain":[1.965,2.465],"nice":false,"zero":false},"axis":{"values":[2,2.1,2.2,2.3,2.4],"format":".1f"}},"color":{"field":"s","type":"nominal","scale":{"domain":["r","b"],"range":["#E17B69","#7FA9D1"]},"legend":{"title":null,"orient":"bottom-right","labelExpr":"datum.label=='r'?'L(A(Dₜᵣₙ), Dᵢ)':'L(A(Dₜᵣₙ ∪ Dₜₛₜ), Dᵢ)'"}}}},
{"width":31,"height":123,"title":{"text":"CIFAR10","dx":-12},"data":{"values":[]},"mark":"text","encoding":{}},
{"width":142,"height":123,"view":{"fill":"#E5E5E5","stroke":null},"data":{"name":"d"},"transform":[{"filter":"datum.p=='1F'"}],"mark":{"type":"line","clip":true,"strokeWidth":1.3},"encoding":{"x":{"field":"x","type":"quantitative","title":"Mislabeled Ratio in Dᵢ","scale":{"domain":[-0.05,1.05],"nice":false,"zero":false},"axis":{"values":[0,0.2,0.4,0.6,0.8,1],"format":".1f"}},"y":{"field":"y","type":"quantitative","title":"Loss of Dₜₛₜ","scale":{"domain":[2.225,2.331],"nice":false,"zero":false},"axis":{"values":[2.24,2.26,2.28,2.3,2.32],"format":".2f"}},"color":{"field":"s","type":"nominal","scale":{"domain":["r","b"],"range":["#E17B69","#7FA9D1"]},"legend":{"title":null,"orient":"none","legendX":4,"legendY":38,"labelExpr":"datum.label=='r'?'L(A(Dₜᵣₙ − Dᵢ), Dₜₛₜ)':'L(A(Dₜᵣₙ), Dₜₛₜ)'"}}}},

{"width":226,"height":123,"title":{"text":"|Validation\u00a0 Set|","offset":19},"data":{"values":[]},"mark":"text","encoding":{}},
{"width":39,"height":123,"data":{"values":[]},"mark":"text","encoding":{}},
{"width":135,"height":123,"view":{"fill":"#E5E5E5","stroke":null},"data":{"name":"d"},"transform":[{"filter":"datum.p=='2A'"}],"mark":{"type":"line","clip":true,"strokeWidth":1.3},"encoding":{"x":{"field":"x","type":"quantitative","title":"Mislabeled Ratio in Dᵢ","scale":{"domain":[-0.05,1.05],"nice":false,"zero":false},"axis":{"values":[0,0.2,0.4,0.6,0.8,1],"format":".1f"}},"y":{"field":"y","type":"quantitative","title":"Loss of Dᵢ","scale":{"domain":[2.156,2.336],"nice":false,"zero":false},"axis":{"values":[2.175,2.2,2.225,2.25,2.275,2.3,2.325],"format":".3f"}},"color":{"field":"s","type":"nominal","scale":{"domain":["r","b"],"range":["#E17B69","#7FA9D1"]},"legend":{"title":null,"orient":"bottom-right","labelExpr":"datum.label=='r'?'L(A(Dₜᵣₙ), Dᵢ)':'L(A(Dₜᵣₙ ∪ Dₜₛₜ), Dᵢ)'"}}}},
{"width":28,"height":123,"title":{"text":"50","dx":-8},"data":{"values":[]},"mark":"text","encoding":{}},
{"width":131,"height":123,"view":{"fill":"#E5E5E5","stroke":null},"data":{"name":"d"},"transform":[{"filter":"datum.p=='2B'"}],"mark":{"type":"line","clip":true,"strokeWidth":1.3},"encoding":{"x":{"field":"x","type":"quantitative","title":"Mislabeled Ratio in Dᵢ","scale":{"domain":[-0.05,1.05],"nice":false,"zero":false},"axis":{"values":[0,0.2,0.4,0.6,0.8,1],"format":".1f"}},"y":{"field":"y","type":"quantitative","title":"Loss of Dₜₛₜ","scale":{"domain":[2.221,2.331],"nice":false,"zero":false},"axis":{"values":[2.24,2.26,2.28,2.3,2.32],"format":".2f"}},"color":{"field":"s","type":"nominal","scale":{"domain":["r","b"],"range":["#E17B69","#7FA9D1"]},"legend":{"title":null,"orient":"none","legendX":4,"legendY":38,"labelExpr":"datum.label=='r'?'L(A(Dₜᵣₙ − Dᵢ), Dₜₛₜ)':'L(A(Dₜᵣₙ), Dₜₛₜ)'"}}}},
{"width":48,"height":123,"data":{"values":[]},"mark":"text","encoding":{}},
{"width":135,"height":123,"view":{"fill":"#E5E5E5","stroke":null},"data":{"name":"d"},"transform":[{"filter":"datum.p=='2C'"}],"mark":{"type":"line","clip":true,"strokeWidth":1.3},"encoding":{"x":{"field":"x","type":"quantitative","title":"Mislabeled Ratio in Dᵢ","scale":{"domain":[-0.05,1.05],"nice":false,"zero":false},"axis":{"values":[0,0.2,0.4,0.6,0.8,1],"format":".1f"}},"y":{"field":"y","type":"quantitative","title":"Loss of Dᵢ","scale":{"domain":[2.128,2.346],"nice":false,"zero":false},"axis":{"values":[2.15,2.175,2.2,2.225,2.25,2.275,2.3,2.325],"format":".3f"}},"color":{"field":"s","type":"nominal","scale":{"domain":["r","b"],"range":["#E17B69","#7FA9D1"]},"legend":{"title":null,"orient":"bottom-right","labelExpr":"datum.label=='r'?'L(A(Dₜᵣₙ), Dᵢ)':'L(A(Dₜᵣₙ ∪ Dₜₛₜ), Dᵢ)'"}}}},
{"width":27,"height":123,"title":{"text":"100","dx":-20},"data":{"values":[]},"mark":"text","encoding":{}},
{"width":126,"height":123,"view":{"fill":"#E5E5E5","stroke":null},"data":{"name":"d"},"transform":[{"filter":"datum.p=='2D'"}],"mark":{"type":"line","clip":true,"strokeWidth":1.3},"encoding":{"x":{"field":"x","type":"quantitative","title":"Mislabeled Ratio in Dᵢ","scale":{"domain":[-0.05,1.05],"nice":false,"zero":false},"axis":{"values":[0,0.2,0.4,0.6,0.8,1],"format":".1f"}},"y":{"field":"y","type":"quantitative","title":"Loss of Dₜₛₜ","scale":{"domain":[2.209,2.323],"nice":false,"zero":false},"axis":{"values":[2.22,2.24,2.26,2.28,2.3,2.32],"format":".2f"}},"color":{"field":"s","type":"nominal","scale":{"domain":["r","b"],"range":["#E17B69","#7FA9D1"]},"legend":{"title":null,"orient":"bottom-right","labelExpr":"datum.label=='r'?'L(A(Dₜᵣₙ − Dᵢ), Dₜₛₜ)':'L(A(Dₜᵣₙ), Dₜₛₜ)'"}}}},
{"width":48,"height":123,"data":{"values":[]},"mark":"text","encoding":{}},
{"width":134,"height":123,"view":{"fill":"#E5E5E5","stroke":null},"data":{"name":"d"},"transform":[{"filter":"datum.p=='2E'"}],"mark":{"type":"line","clip":true,"strokeWidth":1.3},"encoding":{"x":{"field":"x","type":"quantitative","title":"Mislabeled Ratio in Dᵢ","scale":{"domain":[-0.05,1.05],"nice":false,"zero":false},"axis":{"values":[0,0.2,0.4,0.6,0.8,1],"format":".1f"}},"y":{"field":"y","type":"quantitative","title":"Loss of Dᵢ","scale":{"domain":[1.79,2.57],"nice":false,"zero":false},"axis":{"values":[1.8,1.9,2,2.1,2.2,2.3,2.4,2.5],"format":".1f"}},"color":{"field":"s","type":"nominal","scale":{"domain":["r","b"],"range":["#E17B69","#7FA9D1"]},"legend":{"title":null,"orient":"bottom-right","labelExpr":"datum.label=='r'?'L(A(Dₜᵣₙ), Dᵢ)':'L(A(Dₜᵣₙ ∪ Dₜₛₜ), Dᵢ)'"}}}},
{"width":31,"height":123,"title":{"text":"1000","dx":-8},"data":{"values":[]},"mark":"text","encoding":{}},
{"width":142,"height":123,"view":{"fill":"#E5E5E5","stroke":null},"data":{"name":"d"},"transform":[{"filter":"datum.p=='2F'"}],"mark":{"type":"line","clip":true,"strokeWidth":1.3},"encoding":{"x":{"field":"x","type":"quantitative","title":"Mislabeled Ratio in Dᵢ","scale":{"domain":[-0.05,1.05],"nice":false,"zero":false},"axis":{"values":[0,0.2,0.4,0.6,0.8,1],"format":".1f"}},"y":{"field":"y","type":"quantitative","title":"Loss of Dₜₛₜ","scale":{"domain":[2.234,2.3305],"nice":false,"zero":false},"axis":{"values":[2.24,2.26,2.28,2.3,2.32],"format":".2f"}},"color":{"field":"s","type":"nominal","scale":{"domain":["r","b"],"range":["#E17B69","#7FA9D1"]},"legend":{"title":null,"orient":"none","legendX":4,"legendY":38,"labelExpr":"datum.label=='r'?'L(A(Dₜᵣₙ − Dᵢ), Dₜₛₜ)':'L(A(Dₜᵣₙ), Dₜₛₜ)'"}}}},

{"width":226,"height":123,"title":{"text":["Mislabeled","Ratio"],"offset":-15},"data":{"values":[]},"mark":"text","encoding":{}},
{"width":39,"height":123,"data":{"values":[]},"mark":"text","encoding":{}},
{"width":135,"height":123,"view":{"fill":"#E5E5E5","stroke":null},"data":{"name":"d"},"transform":[{"filter":"datum.p=='3A'"}],"mark":{"type":"line","clip":true,"strokeWidth":1.3},"encoding":{"x":{"field":"x","type":"quantitative","title":"Mislabeled Ratio in Dᵢ","scale":{"domain":[-0.05,1.05],"nice":false,"zero":false},"axis":{"values":[0,0.2,0.4,0.6,0.8,1],"format":".1f"}},"y":{"field":"y","type":"quantitative","title":"Loss of Dᵢ","scale":{"domain":[1.78,2.71],"nice":false,"zero":false},"axis":{"values":[1.8,2,2.2,2.4,2.6],"format":".1f"}},"color":{"field":"s","type":"nominal","scale":{"domain":["r","b"],"range":["#E17B69","#7FA9D1"]},"legend":{"title":null,"orient":"bottom-right","labelExpr":"datum.label=='r'?'L(A(Dₜᵣₙ), Dᵢ)':'L(A(Dₜᵣₙ ∪ Dₜₛₜ), Dᵢ)'"}}}},
{"width":28,"height":123,"title":{"text":"20%","dx":-8,"offset":15},"data":{"values":[]},"mark":"text","encoding":{}},
{"width":131,"height":123,"view":{"fill":"#E5E5E5","stroke":null},"data":{"name":"d"},"transform":[{"filter":"datum.p=='3B'"}],"mark":{"type":"line","clip":true,"strokeWidth":1.3},"encoding":{"x":{"field":"x","type":"quantitative","title":"Mislabeled Ratio in Dᵢ","scale":{"domain":[-0.05,1.05],"nice":false,"zero":false},"axis":{"values":[0,0.2,0.4,0.6,0.8,1],"format":".1f"}},"y":{"field":"y","type":"quantitative","title":"Loss of Dₜₛₜ","scale":{"domain":[2.069,2.198],"nice":false,"zero":false},"axis":{"values":[2.08,2.1,2.12,2.14,2.16,2.18],"format":".2f"}},"color":{"field":"s","type":"nominal","scale":{"domain":["r","b"],"range":["#E17B69","#7FA9D1"]},"legend":{"title":null,"orient":"top-right","labelExpr":"datum.label=='r'?'L(A(Dₜᵣₙ − Dᵢ), Dₜₛₜ)':'L(A(Dₜᵣₙ), Dₜₛₜ)'"}}}},
{"width":48,"height":123,"data":{"values":[]},"mark":"text","encoding":{}},
{"width":135,"height":123,"view":{"fill":"#E5E5E5","stroke":null},"data":{"name":"d"},"transform":[{"filter":"datum.p=='3C'"}],"mark":{"type":"line","clip":true,"strokeWidth":1.3},"encoding":{"x":{"field":"x","type":"quantitative","title":"Mislabeled Ratio in Dᵢ","scale":{"domain":[-0.05,1.05],"nice":false,"zero":false},"axis":{"values":[0,0.2,0.4,0.6,0.8,1],"format":".1f"}},"y":{"field":"y","type":"quantitative","title":"Loss of Dᵢ","scale":{"domain":[1.88,2.627],"nice":false,"zero":false},"axis":{"values":[1.9,2,2.1,2.2,2.3,2.4,2.5,2.6],"format":".2f"}},"color":{"field":"s","type":"nominal","scale":{"domain":["r","b"],"range":["#E17B69","#7FA9D1"]},"legend":{"title":null,"orient":"bottom-right","labelExpr":"datum.label=='r'?'L(A(Dₜᵣₙ), Dᵢ)':'L(A(Dₜᵣₙ ∪ Dₜₛₜ), Dᵢ)'"}}}},
{"width":27,"height":123,"title":{"text":"30%","dx":-20,"offset":15},"data":{"values":[]},"mark":"text","encoding":{}},
{"width":126,"height":123,"view":{"fill":"#E5E5E5","stroke":null},"data":{"name":"d"},"transform":[{"filter":"datum.p=='3D'"}],"mark":{"type":"line","clip":true,"strokeWidth":1.3},"encoding":{"x":{"field":"x","type":"quantitative","title":"Mislabeled Ratio in Dᵢ","scale":{"domain":[-0.05,1.05],"nice":false,"zero":false},"axis":{"values":[0,0.2,0.4,0.6,0.8,1],"format":".1f"}},"y":{"field":"y","type":"quantitative","title":"Loss of Dₜₛₜ","scale":{"domain":[2.038,2.246],"nice":false,"zero":false},"axis":{"values":[2.05,2.075,2.1,2.125,2.15,2.175,2.2,2.225],"labelExpr":"datum.value==2.125?'2.12':format(datum.value,'.2f')"}},"color":{"field":"s","type":"nominal","scale":{"domain":["r","b"],"range":["#E17B69","#7FA9D1"]},"legend":{"title":null,"orient":"top-right","labelExpr":"datum.label=='r'?'L(A(Dₜᵣₙ − Dᵢ), Dₜₛₜ)':'L(A(Dₜᵣₙ), Dₜₛₜ)'"}}}},
{"width":48,"height":123,"data":{"values":[]},"mark":"text","encoding":{}},
{"width":134,"height":123,"view":{"fill":"#E5E5E5","stroke":null},"data":{"name":"d"},"transform":[{"filter":"datum.p=='3E'"}],"mark":{"type":"line","clip":true,"strokeWidth":1.3},"encoding":{"x":{"field":"x","type":"quantitative","title":"Mislabeled Ratio in Dᵢ","scale":{"domain":[-0.05,1.05],"nice":false,"zero":false},"axis":{"values":[0,0.2,0.4,0.6,0.8,1],"format":".1f"}},"y":{"field":"y","type":"quantitative","title":"Loss of Dᵢ","scale":{"domain":[1.975,2.465],"nice":false,"zero":false},"axis":{"values":[2,2.1,2.2,2.3,2.4],"format":".1f"}},"color":{"field":"s","type":"nominal","scale":{"domain":["r","b"],"range":["#E17B69","#7FA9D1"]},"legend":{"title":null,"orient":"bottom-right","labelExpr":"datum.label=='r'?'L(A(Dₜᵣₙ), Dᵢ)':'L(A(Dₜᵣₙ ∪ Dₜₛₜ), Dᵢ)'"}}}},
{"width":31,"height":123,"title":{"text":"50%","dx":-8,"offset":15},"data":{"values":[]},"mark":"text","encoding":{}},
{"width":142,"height":123,"view":{"fill":"#E5E5E5","stroke":null},"data":{"name":"d"},"transform":[{"filter":"datum.p=='3F'"}],"mark":{"type":"line","clip":true,"strokeWidth":1.3},"encoding":{"x":{"field":"x","type":"quantitative","title":"Mislabeled Ratio in Dᵢ","scale":{"domain":[-0.05,1.05],"nice":false,"zero":false},"axis":{"values":[0,0.2,0.4,0.6,0.8,1],"format":".1f"}},"y":{"field":"y","type":"quantitative","title":"Loss of Dₜₛₜ","scale":{"domain":[2.225,2.331],"nice":false,"zero":false},"axis":{"values":[2.24,2.26,2.28,2.3,2.32],"format":".2f"}},"color":{"field":"s","type":"nominal","scale":{"domain":["r","b"],"range":["#E17B69","#7FA9D1"]},"legend":{"title":null,"orient":"none","legendX":4,"legendY":38,"labelExpr":"datum.label=='r'?'L(A(Dₜᵣₙ − Dᵢ), Dₜₛₜ)':'L(A(Dₜᵣₙ), Dₜₛₜ)'"}}}}
],
"config":{
"view":{"stroke":null},
"font":"DejaVu Sans",
"title":{"font":"DejaVu Sans","fontSize":25,"fontWeight":"bold","color":"#000000","anchor":"middle","frame":"group","baseline":"alphabetic","offset":17,"lineHeight":28},
"axis":{"labelFont":"DejaVu Sans","labelFontSize":10,"labelFontWeight":"bold","labelColor":"#555555","titleFont":"DejaVu Sans","titleFontSize":10,"titleFontWeight":"bold","titleColor":"#555555","grid":true,"gridColor":"#FFFFFF","gridWidth":0.8,"domain":false,"ticks":false,"labelPadding":3,"titlePadding":2,"labelOverlap":false,"labelFlush":false},
"legend":{"symbolType":"stroke","symbolStrokeWidth":1.5,"symbolSize":200,"labelFont":"DejaVu Sans","labelFontSize":9,"labelFontWeight":"bold","labelColor":"#111111","labelOffset":8,"rowPadding":1,"padding":3,"fillColor":"rgba(229,229,229,0.8)","offset":3}
}
}
